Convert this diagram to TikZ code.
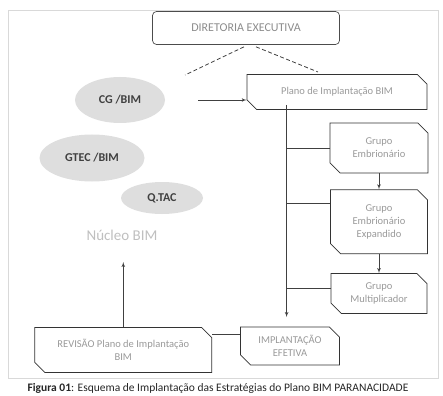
\documentclass[tikz,border=0pt]{standalone}
\usepackage{fontspec}
\setmainfont{Carlito}
\usetikzlibrary{arrows,calc,positioning,shapes}

\begin{document}
\begin{tikzpicture}[auto,>=latex',x=1pt,y=-1pt]
	\tikzstyle{block} = [draw=black!80, line width=0.7pt, chamfered rectangle, chamfered rectangle corners={north east,south west}, chamfered rectangle xsep=7pt, text=black!40, align=center, inner sep=2pt, font=\fontsize{10.5}{13}\selectfont]
	\tikzstyle{team} = [ellipse, inner sep=0pt, fill=black!13, text=black!75, font=\bfseries\fontsize{12}{14}\selectfont]
	
	\useasboundingbox (0,0) rectangle (443,395);
	\draw [black!15] (8,10) rectangle (438,378);
	
	\node [draw=black!70, line width=0.7pt, rounded corners=4pt, minimum height=33pt, minimum width=187pt, text=black!45, font=\fontsize{12}{14}\selectfont] (dir) at (246,28) {DIRETORIA EXECUTIVA};
	
	\node [team, minimum width=90pt, minimum height=46pt] (cg) at (120,100) {CG /BIM};
	
	\node [team, minimum width=105pt, minimum height=47pt] (gtec) at (92,158) {GTEC /BIM};
	
	\node [team, minimum width=82pt, minimum height=32pt] (qtac) at (162,198) {Q.TAC};
	
	\node [text=black!25, font=\fontsize{15}{17}\selectfont] (nucleo) at (122,235) {Núcleo BIM};
	
	\node [block, minimum height=35pt, minimum width=180pt] (plano) at (337,92) {Plano de Implantação BIM};
	
	\node [block, minimum height=50pt, minimum width=98pt] (emb) at (379,148) {Grupo\\Embrionário};
	
	\node [block, minimum height=64pt, minimum width=97pt, below = 16pt of emb.south, anchor=north] (exp) {Grupo\\Embrionário\\Expandido};
	
	\node [block, minimum height=40pt, minimum width=96pt, below = 19pt of exp.south, anchor=north] (mult) {Grupo\\Multiplicador};
	
	\node [block, minimum height=38pt, minimum width=99pt] (impl) at (290,346) {IMPLANTAÇÃO\\EFETIVA};
	
	\node [block, minimum height=45pt, minimum width=177pt, left = 28pt of impl.west, anchor=east, yshift=-4pt] (rev) {REVISÃO Plano de Implantação\\BIM};
	
	\node [coordinate] (dl) at (185,75) {};
	\node [coordinate] (dr) at (318,72) {};
	\node [coordinate, right = 33pt of cg.east] (cgout) {};
	\node [coordinate] (tk) at ($(plano.south west)+(35,0)$) {};
	\node [coordinate] (tkend) at (tk |- 0,317) {};
	\node [coordinate] (nucin) at (rev.north |- 0,262) {};
	
	\draw [dash pattern=on 4pt off 2.5pt, thick, black!75] ($(dir.south)+(-2,2)$) -- (dl);
	\draw [dash pattern=on 4pt off 2.5pt, thick, black!75] ($(dir.south)+(10,2)$) -- (dr);
	
	\draw [->, black!75, line width=0.7pt] (cgout) -- (cgout -| plano.west);
	
	\draw [->, black!75, line width=0.7pt] (tk) -- (tkend);
	\draw [black!75, line width=0.7pt] (tk |- emb.west) -- (emb.west);
	\draw [black!75, line width=0.7pt] ($(tk |- exp.west)+(0,-18)$) -- ($(exp.west)+(0,-18)$);
	\draw [black!75, line width=0.7pt] ($(tk |- mult.west)+(0,-5)$) -- ($(mult.west)+(0,-5)$);
	
	\draw [->, black!75, line width=0.7pt] (emb.south) -- (emb.south |- exp.north);
	\draw [->, black!75, line width=0.7pt] (exp.south) -- (exp.south |- mult.north);
	
	\draw [black!75, line width=0.7pt] ($(impl.north west)+(0,8)$) -- ($(impl.north west -| rev.east)+(0,8)$);
	\draw [->, black!75, line width=0.7pt] (rev.north) -- (nucin);
	
	\node [font=\fontsize{11.5}{13}\selectfont, text=black!85] (caption) at (218,388) {\textbf{Figura 01}: Esquema de Implantação das Estratégias do Plano BIM PARANACIDADE};
	
\end{tikzpicture}
\end{document}
